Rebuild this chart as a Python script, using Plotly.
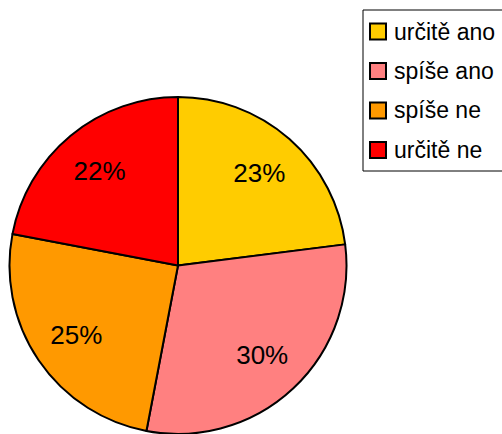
import plotly.graph_objects as go

# Survey answers and their share
labels = ["určitě ano", "spíše ano", "spíše ne", "určitě ne"]
values = [23, 30, 25, 22]
colors = ["#FFCC00", "#FF8080", "#FF9900", "#FF0000"]

W, H = 502, 434
FONT = "Arial, 'Liberation Sans', sans-serif"


def px_x(x):
    return x / W


def px_y(y):
    return 1 - y / H


pie_domain = dict(x=[px_x(9.5), px_x(346.5)], y=[0, px_y(97)])

# Filled slices with black outlines
fig = go.Figure(
    go.Pie(
        labels=labels,
        values=values,
        sort=False,
        direction="clockwise",
        rotation=0,
        marker=dict(colors=colors, line=dict(color="black", width=2)),
        textinfo="none",
        domain=pie_domain,
        showlegend=False,
        hoverinfo="label+percent",
    )
)

# Transparent ring on top that carries the percentage labels further out
fig.add_trace(
    go.Pie(
        labels=labels,
        values=values,
        sort=False,
        direction="clockwise",
        rotation=0,
        hole=0.46,
        marker=dict(colors=["rgba(0,0,0,0)"] * len(labels), line=dict(width=0)),
        textinfo="percent",
        textposition="inside",
        insidetextorientation="horizontal",
        textfont=dict(family=FONT, size=26, color="black"),
        domain=pie_domain,
        showlegend=False,
        hoverinfo="skip",
    )
)

# Legend panel on the right, built from the same labels and colours
shapes = [
    dict(
        type="rect", xref="paper", yref="paper",
        x0=px_x(363), x1=px_x(520), y0=px_y(171), y1=px_y(10),
        line=dict(color="black", width=1), fillcolor="white", layer="below",
    )
]
annotations = []
for i, (lab, col) in enumerate(zip(labels, colors)):
    cy = 31.5 + 39.5 * i
    shapes.append(
        dict(
            type="rect", xref="paper", yref="paper",
            x0=px_x(370), x1=px_x(386), y0=px_y(cy + 8), y1=px_y(cy - 8),
            line=dict(color="black", width=2), fillcolor=col,
        )
    )
    annotations.append(
        dict(
            xref="paper", yref="paper", x=px_x(392), y=px_y(cy),
            xanchor="left", yanchor="middle", text=lab, showarrow=False,
            font=dict(family=FONT, size=23, color="black"),
        )
    )

fig.update_layout(
    width=W,
    height=H,
    autosize=False,
    margin=dict(l=0, r=0, t=0, b=0),
    paper_bgcolor="white",
    plot_bgcolor="white",
    shapes=shapes,
    annotations=annotations,
)

fig.write_html("out.html")
